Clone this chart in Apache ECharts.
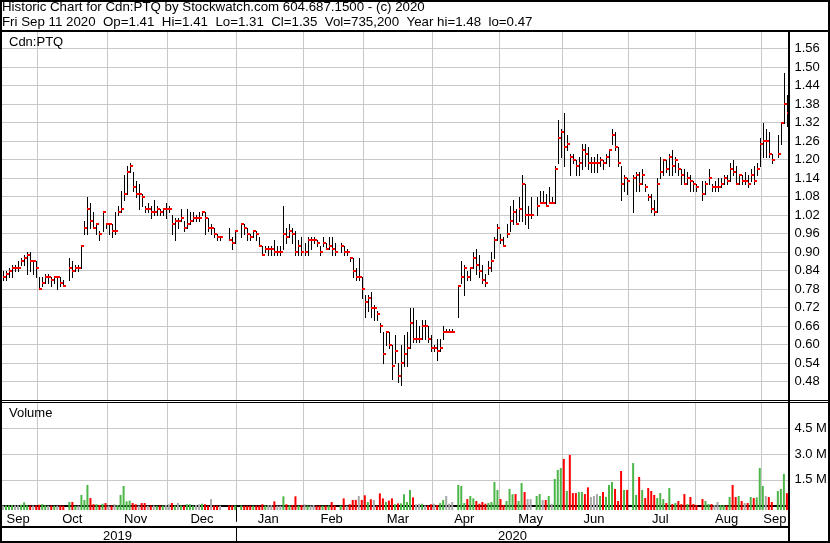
<!DOCTYPE html>
<html><head><meta charset="utf-8">
<script src="https://cdn.jsdelivr.net/npm/echarts@6/dist/echarts.min.js"></script>
<style>html,body{margin:0;padding:0;background:#fff}#c{width:830px;height:543px}</style>
</head><body><div id="c"></div>
<script>
// ---------- DATA ----------
const firstDay = '2019-09-13';
const lastDay = '2020-09-11';
const holidays = ['2019-10-14','2019-12-25','2019-12-26','2020-01-01','2020-02-17','2020-04-10','2020-05-18','2020-07-01','2020-08-03','2020-09-07'];
const monthNames = ['Jan','Feb','Mar','Apr','May','Jun','Jul','Aug','Sep','Oct','Nov','Dec'];
const priceTicks = [0.48,0.54,0.60,0.66,0.72,0.78,0.84,0.90,0.96,1.02,1.08,1.14,1.20,1.26,1.32,1.38,1.44,1.50,1.56];
const volumeTicks = [1.5,3.0,4.5];

const high = [
.84,.84,.85,.86,.86,.87,.88,.89,.90,.90,
.87,.87,.82,.82,.83,.83,.82,.82,.82,.82,
.81,null,.88,.87,.86,.86,.92,1.00,1.08,1.06,
1.03,.99,.97,1.03,.99,.99,.99,1.03,1.05,1.10,
1.15,1.18,1.19,1.16,1.13,1.12,1.09,1.05,1.06,1.05,
1.07,1.05,1.04,1.04,1.06,1.05,1.02,1.01,1.01,1.04,
1.00,1.04,1.03,1.03,1.02,1.03,1.03,1.03,1.01,.99,
.98,.96,.95,null,null,.98,.95,.97,null,.99,
.99,.98,.96,.97,.97,.95,.92,.92,.92,.92,
.94,.92,.92,1.05,.98,.99,.98,.97,.94,.95,
.93,.95,.95,.95,.94,.92,.95,.93,.95,.95,
.93,null,.93,.92,.91,.88,.88,.85,.88,.82,
.76,.76,.77,.73,.71,.67,.64,.64,.64,.60,
.63,.54,.60,.63,.64,.72,.72,.68,.66,.68,
.68,.66,.63,.60,.62,.62,.66,.65,.65,.65,
null,.79,.87,.86,.84,.85,.90,.91,.89,.86,
.83,.87,.90,.95,.99,.96,.95,.99,1.05,1.07,
1.04,1.08,1.15,1.12,1.05,1.08,null,1.08,1.10,1.10,
1.09,1.11,1.08,1.18,1.33,1.30,1.35,1.28,1.22,1.22,
1.20,1.21,1.25,1.25,1.24,1.21,1.21,1.22,1.21,1.20,
1.22,1.23,1.30,1.29,1.24,1.18,1.15,1.14,null,1.15,
1.16,1.16,1.17,1.12,1.09,1.09,1.07,1.14,1.21,1.20,
1.20,1.22,1.23,1.21,1.19,1.17,1.17,1.16,1.15,1.13,
1.12,null,1.13,1.13,1.17,1.12,1.13,1.14,1.14,1.15,
1.15,1.19,1.20,1.18,1.15,1.15,1.16,1.15,1.17,1.18,
1.19,1.27,1.32,1.30,1.29,1.22,null,1.28,1.32,1.48,
1.41];

const low = [
.81,.81,.82,.82,.84,.84,.86,.86,.83,.84,
.83,.82,.78,.79,.80,.80,.79,.80,.78,.79,
.79,null,.81,.82,.84,.84,.85,.96,.96,.98,
.98,.96,.94,.97,.98,.96,.95,.96,1.02,1.03,
1.07,1.09,1.16,1.10,1.08,1.04,1.05,1.03,1.03,1.01,
1.02,1.02,1.02,1.02,1.01,1.03,.96,.94,.98,1.00,
.97,.98,.99,1.00,1.00,1.00,1.02,.96,.97,.96,
.95,.94,.94,null,null,.94,.91,.93,null,.95,
.96,.94,.94,.95,.94,.92,.89,.90,.89,.89,
.89,.89,.89,.91,.93,.95,.93,.89,.89,.89,
.89,.89,.91,.93,.92,.89,.92,.91,.91,.89,
.89,null,.90,.89,.89,.87,.82,.81,.81,.75,
.69,.71,.69,.68,.68,.64,.54,.60,.59,.49,
.54,.48,.47,.53,.53,.59,.61,.61,.61,.62,
.62,.61,.58,.58,.55,.58,.62,.64,.64,.64,
null,.69,.80,.76,.81,.81,.85,.83,.82,.80,
.79,.83,.84,.88,.94,.93,.92,.95,.97,.99,
.99,1.00,1.00,.99,.98,1.01,null,1.02,1.06,1.06,
1.05,1.06,1.06,1.06,1.19,1.21,1.18,1.23,1.15,1.19,
1.15,1.15,1.17,1.18,1.17,1.16,1.16,1.16,1.18,1.17,
1.19,1.18,1.25,1.23,1.18,1.07,1.10,1.09,null,1.03,
1.10,1.10,1.12,1.10,1.07,1.03,1.02,1.03,1.14,1.15,
1.16,1.15,1.15,1.16,1.15,1.12,1.12,1.12,1.10,1.10,
1.10,null,1.07,1.09,1.12,1.10,1.10,1.10,1.11,1.12,
1.12,1.13,1.15,1.12,1.12,1.12,1.12,1.11,1.13,1.12,
1.15,1.18,1.21,1.21,1.21,1.19,null,1.21,1.25,1.32,
1.31];

const close = [
.82,.83,.84,.85,.85,.85,.87,.88,.89,.87,
.87,.85,.78,.80,.82,.82,.81,.82,.82,.80,
.79,null,.85,.84,.85,.85,.92,.98,1.04,1.00,
.98,.99,.96,1.03,.99,.99,.97,.97,1.03,1.04,
1.09,1.16,1.18,1.11,1.09,1.09,1.08,1.04,1.04,1.03,
1.03,1.04,1.03,1.04,1.04,1.04,.99,1.00,1.00,1.01,
.98,.99,1.00,1.01,1.01,1.01,1.03,1.01,.98,.98,
.96,.95,.95,null,null,.94,.93,.97,null,.99,
.98,.96,.95,.97,.96,.92,.89,.91,.91,.91,
.90,.90,.90,.96,.95,.97,.96,.90,.92,.90,
.90,.94,.94,.94,.93,.90,.93,.91,.92,.91,
.90,null,.92,.90,.90,.88,.84,.82,.82,.78,
.74,.75,.72,.72,.70,.66,.57,.64,.60,.53,
.58,.50,.54,.57,.59,.67,.62,.62,.62,.66,
.66,.62,.59,.59,.58,.59,.64,.64,.64,.64,
null,.79,.82,.85,.82,.85,.88,.86,.84,.81,
.80,.85,.87,.94,.98,.94,.92,.96,1.00,1.03,
.99,1.04,1.12,1.02,1.02,1.02,null,1.05,1.06,1.06,
1.05,1.06,1.06,1.17,1.27,1.29,1.24,1.25,1.21,1.20,
1.18,1.19,1.23,1.22,1.19,1.19,1.19,1.19,1.20,1.19,
1.21,1.23,1.28,1.24,1.19,1.12,1.14,1.13,null,1.14,
1.15,1.12,1.15,1.11,1.08,1.04,1.03,1.12,1.16,1.20,
1.17,1.21,1.18,1.20,1.17,1.15,1.12,1.14,1.13,1.12,
1.11,null,1.09,1.12,1.14,1.11,1.11,1.11,1.12,1.14,
1.13,1.17,1.16,1.12,1.15,1.13,1.13,1.12,1.15,1.13,
1.17,1.25,1.26,1.26,1.22,1.20,null,1.22,1.32,1.38,
1.35];

// volume in millions of shares
const volume = [
0.01,0.02,0.02,0.04,0.03,0.03,0.06,0.20,0.03,0.02,
0.02,0.03,0.06,0.10,0.03,0.01,0.02,0.01,0.01,0.02,
0.01,null,0.22,0.22,0.01,0.01,0.63,0.34,1.21,0.45,
0.09,0.09,0.05,0.12,0.16,0.02,0.02,0.09,0.05,0.63,
1.15,0.26,0.30,0.16,0.09,0.01,0.16,0.16,0.01,0.02,
0.02,0.01,0.03,0.02,0.05,0.09,0.16,0.02,0.16,0.02,
0.01,0.09,0.09,0.01,0.05,0.09,0.12,0.09,0.01,0.39,
0.02,0.02,0.01,null,null,0.02,0.03,0.02,null,0.02,
0.01,0.01,0.01,0.01,0.02,0.01,0.09,0.02,0.05,0.05,
0.26,0.01,0.01,0.55,0.09,0.03,0.05,0.55,0.02,0.05,
0.09,0.02,0.02,0.05,0.01,0.02,0.01,0.02,0.02,0.22,
0.02,null,0.02,0.43,0.01,0.09,0.34,0.34,0.57,0.34,
0.61,0.22,0.38,0.34,0.02,0.72,0.43,0.22,0.30,0.43,
0.09,0.14,0.14,0.67,0.22,0.92,0.49,0.09,0.12,0.12,
0.02,0.03,0.09,0.12,0.05,0.16,0.34,0.57,0.12,0.22,
null,1.21,1.15,0.16,0.39,0.57,0.43,0.28,0.12,0.22,
0.12,0.16,0.22,1.38,0.92,0.39,0.05,0.28,0.98,0.67,
0.68,0.28,1.32,0.80,0.39,0.39,null,0.57,0.68,0.34,
0.34,0.57,0.12,1.56,2.08,2.19,2.72,0.86,2.95,0.74,
0.74,0.80,0.80,0.68,1.07,0.51,0.57,0.68,0.57,0.80,
0.51,1.21,1.38,0.98,0.28,2.02,0.92,0.92,null,2.48,
0.63,1.67,0.92,0.45,1.03,0.86,0.63,0.45,0.74,0.39,
0.16,1.03,0.10,0.16,0.28,0.10,0.68,0.10,0.51,0.10,
0.05,null,0.39,0.28,0.10,0.10,0.05,0.22,0.05,0.05,
0.02,0.51,1.21,0.51,0.57,0.28,0.16,0.16,0.51,0.45,
0.49,2.19,1.15,0.57,0.51,0.22,null,0.86,0.98,1.85,
0.7352];

// ---------- BUILD ----------
function tradingSlots(a, b) {
  const out = [];
  const d = new Date(a + 'T00:00:00Z'), e = new Date(b + 'T00:00:00Z');
  while (d <= e) {
    const w = d.getUTCDay();
    if (w !== 0 && w !== 6) out.push(d.toISOString().slice(0, 10));
    d.setUTCDate(d.getUTCDate() + 1);
  }
  return out;
}
const dates = tradingSlots(firstDay, lastDay);

// month boundaries (weekend month-starts fall back to the preceding Friday slot)
const gridIdx = new Set();
const monthStarts = [0];
for (let i = 1; i < dates.length; i++) {
  if (dates[i].slice(0, 7) !== dates[i - 1].slice(0, 7)) {
    const first = new Date(dates[i].slice(0, 7) + '-01T00:00:00Z').getUTCDay();
    const g = (first === 0 || first === 6) ? i - 1 : i;
    gridIdx.add(g);
    monthStarts.push(g);
  }
}
monthStarts.push(dates.length);
const monthLabelIdx = new Set();
for (let k = 0; k < monthStarts.length - 1; k++) {
  monthLabelIdx.add(Math.floor((monthStarts[k] + monthStarts[k + 1] - 1) / 2));
}
let yearStart = dates.findIndex(d => d.slice(0, 4) !== dates[0].slice(0, 4));
const yearLabelIdx = new Set([Math.floor((yearStart - 1) / 2), Math.floor((yearStart + dates.length - 1) / 2)]);
const yearTickIdx = new Set([0, yearStart]);

const GREEN = '#4cb648', RED = '#ff0000', GRAY = '#a8a8a8', GRID_C = '#c8c8c8';
const ohlc = [];
const volData = [];
let prevClose = null;
for (let i = 0; i < dates.length; i++) {
  if (high[i] == null) { volData.push('-'); continue; }
  ohlc.push([i, high[i], low[i], close[i]]);
  let col = GRAY;
  if (prevClose != null) col = close[i] > prevClose + 1e-9 ? GREEN : (close[i] < prevClose - 1e-9 ? RED : GRAY);
  prevClose = close[i];
  volData.push({ value: volume[i], itemStyle: { color: col } });
}

const FONT = 'Arial';
const GL = 1.5, GW = 786.9;
const chart = echarts.init(document.getElementById('c'), null, { renderer: 'canvas' });
const txt = { fontFamily: FONT, fontSize: 13, fontWeight: 'normal', color: '#000' };
const hdr = { fontFamily: FONT, fontSize: 13.3, fontWeight: 'normal', color: '#000' };

chart.setOption({
  animation: false,
  backgroundColor: '#fff',
  textStyle: { fontFamily: FONT },
  title: [
    { text: 'Historic Chart for Cdn:PTQ by Stockwatch.com 604.687.1500 - (c) 2020', left: 2, top: 1, padding: 0, textStyle: hdr },
    { text: 'Fri Sep 11 2020  Op=1.41  Hi=1.41  Lo=1.31  Cl=1.35  Vol=735,200  Year hi=1.48  lo=0.47', left: 2, top: 16, padding: 0, textStyle: hdr },
    { text: 'Cdn:PTQ', left: 9, top: 36, padding: 0, textStyle: txt },
    { text: 'Volume', left: 9, top: 407, padding: 0, textStyle: txt }
  ],
  grid: [
    { left: GL, width: GW, top: 30.2, height: 370, containLabel: false, outerBoundsMode: 'none' },
    { left: GL, width: GW, top: 402.4, height: 77.5, containLabel: false, outerBoundsMode: 'none' },
    { left: GL, width: GW, top: 402.4, height: 107.6, containLabel: false, outerBoundsMode: 'none' }
  ],
  xAxis: [
    { gridIndex: 0, type: 'category', data: dates, boundaryGap: true,
      axisLine: { show: false }, axisTick: { show: false }, axisLabel: { show: false },
      splitLine: { show: true, interval: (i) => gridIdx.has(i), lineStyle: { color: GRID_C, width: 1 } } },
    { gridIndex: 1, type: 'category', data: dates, boundaryGap: true, show: false },
    { gridIndex: 2, type: 'category', data: dates, boundaryGap: true, position: 'bottom',
      axisLine: { show: true, lineStyle: { color: '#000', width: 2 } },
      axisTick: { show: true, interval: (i) => yearTickIdx.has(i), length: 16, lineStyle: { color: '#000', width: 1 } },
      axisLabel: { interval: (i) => monthLabelIdx.has(i), formatter: v => monthNames[+v.slice(5, 7) - 1], margin: 3, fontSize: 13, color: '#000', fontFamily: FONT },
      splitLine: { show: true, interval: (i) => gridIdx.has(i), lineStyle: { color: GRID_C, width: 1 } } },
    { gridIndex: 2, type: 'category', data: dates, boundaryGap: true, position: 'bottom', offset: 16.5,
      axisLine: { show: true, lineStyle: { color: '#000', width: 2 } },
      axisTick: { show: true, interval: (i) => yearTickIdx.has(i), length: 15, lineStyle: { color: '#000', width: 1 } },
      axisLabel: { interval: (i) => yearLabelIdx.has(i), formatter: v => v.slice(0, 4), margin: 3, fontSize: 13, color: '#000', fontFamily: FONT },
      splitLine: { show: false } }
  ],
  yAxis: [
    { gridIndex: 0, type: 'value', position: 'right', min: 0.42, max: 1.62, interval: 0.06,
      axisLine: { show: false }, axisTick: { show: false },
      axisLabel: { margin: 6, fontSize: 13, color: '#000', fontFamily: FONT,
        formatter: v => priceTicks.some(t => Math.abs(t - v) < 1e-6) ? v.toFixed(2) : '' },
      splitLine: { show: true, lineStyle: { color: GRID_C, width: 1 } } },
    { gridIndex: 1, type: 'value', position: 'right', min: 1.5, max: 6, interval: 1.5,
      axisLine: { show: false }, axisTick: { show: false },
      axisLabel: { margin: 6, fontSize: 13, color: '#000', fontFamily: FONT,
        formatter: v => volumeTicks.some(t => Math.abs(t - v) < 1e-6) ? v.toFixed(1) + ' M' : '' },
      splitLine: { show: true, lineStyle: { color: GRID_C, width: 1 } } },
    { gridIndex: 2, type: 'value', min: -0.244, max: 6, startValue: -0.244, show: false, splitLine: { show: false } }
  ],
  series: [
    { type: 'bar', xAxisIndex: 2, yAxisIndex: 2, data: volData, barWidth: 2, barGap: '0%', silent: true, z: 3 },
    { type: 'custom', xAxisIndex: 0, yAxisIndex: 0, data: ohlc, silent: true, z: 5,
      encode: { x: 0, y: [1, 2, 3] },
      renderItem: function (params, api) {
        const i = api.value(0);
        const h = api.coord([i, api.value(1)]);
        const l = api.coord([i, api.value(2)]);
        const c = api.coord([i, api.value(3)]);
        const x = Math.round(h[0]) + 0.5;
        return { type: 'group', children: [
          { type: 'line', shape: { x1: x, y1: Math.round(h[1]), x2: x, y2: Math.round(l[1]) + 1 }, style: { stroke: '#000', lineWidth: 1 } },
          { type: 'rect', shape: { x: x - 0.5, y: Math.round(c[1]) - 1, width: 3, height: 2 }, style: { fill: '#ff0000' } }
        ] };
      } }
  ],
  graphic: [
    { type: 'rect', z: 100, silent: true, shape: { x: 1, y: 1, width: 828, height: 541 }, style: { fill: 'none', stroke: '#000', lineWidth: 2 } },
    { type: 'rect', z: 100, silent: true, shape: { x: 0, y: 30, width: 830, height: 2 }, style: { fill: '#000' } },
    { type: 'rect', z: 100, silent: true, shape: { x: 0, y: 400, width: 830, height: 1 }, style: { fill: '#000' } },
    { type: 'rect', z: 100, silent: true, shape: { x: 0, y: 402, width: 830, height: 1 }, style: { fill: '#000' } },
    { type: 'rect', z: 100, silent: true, shape: { x: 788, y: 30, width: 2, height: 513 }, style: { fill: '#000' } }
  ]
});
</script>
</body></html>
